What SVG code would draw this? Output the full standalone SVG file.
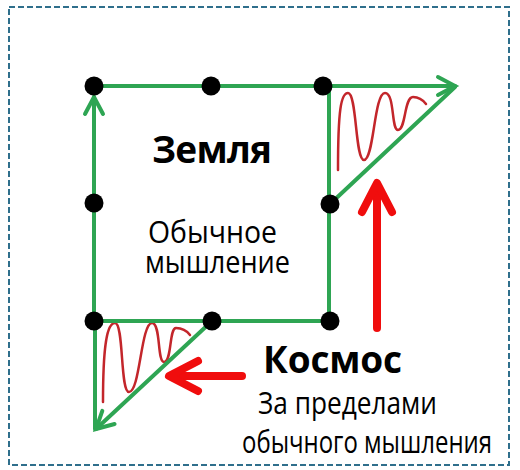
<svg xmlns="http://www.w3.org/2000/svg" width="520" height="470" viewBox="0 0 520 470">
<style>
.g{stroke:#2ea553;stroke-width:4;fill:none;stroke-linecap:round}
.r{stroke:#f00d0d;stroke-width:8;fill:none;stroke-linecap:round;stroke-linejoin:round}
.w{stroke:#c3262b;stroke-width:2.5;fill:none;stroke-linecap:round}
.dot{fill:#000}
.t{font-family:"Open Sans","Noto Sans","DejaVu Sans",sans-serif;fill:#000}
.b{font-weight:bold;font-size:37px}
.n{font-size:31px}
</style>
<defs>
<marker id="ga" markerUnits="userSpaceOnUse" markerWidth="40" markerHeight="40" refX="0" refY="0" orient="auto" viewBox="-30 -20 40 40" overflow="visible">
<path d="M-17,-9 L0,0 L-17,9" class="g"/>
</marker>
<marker id="ra" markerUnits="userSpaceOnUse" markerWidth="60" markerHeight="60" refX="0" refY="0" orient="auto" viewBox="-40 -30 60 60" overflow="visible">
<path d="M-25,-15 L4,0 L-25,15" class="r"/>
</marker>
</defs>
<rect x="9" y="7" width="500" height="458" fill="#fff" stroke="#2f6f8c" stroke-width="2" stroke-dasharray="6 3"/>
<g id="waves">
<path class="w" d="M338,170 C338,110 341,93 348,93 C357,93 355,160 364,160 C374,160 374,93 385,93 C395,93 391,130 398,130 C406,130 404,97 413,97 C419,97 423,100 426,104"/>
<path class="w" d="M103,402 C103,345 107,323 115,323 C124,323 120,392 129,392 C140,392 141,323 152,323 C161,323 157,362 164,362 C172,362 169,328 176,328 C182,328 187,331 190,335"/>
</g>
<g id="connectors">
<line class="g" x1="94" y1="86" x2="455" y2="86" marker-end="url(#ga)"/>
<line class="g" x1="94" y1="321" x2="94" y2="97" marker-end="url(#ga)"/>
<line class="g" x1="329" y1="86" x2="329" y2="321"/>
<line class="g" x1="94" y1="321" x2="330" y2="321"/>
<line class="g" x1="455" y1="87" x2="329" y2="205"/>
<line class="g" x1="95" y1="321" x2="95" y2="429"/>
<line class="g" x1="212" y1="321" x2="96" y2="429" marker-end="url(#ga)"/>
<line class="r" x1="377" y1="328" x2="377" y2="187" marker-end="url(#ra)"/>
<line class="r" x1="242" y1="376" x2="173" y2="376" marker-end="url(#ra)"/>
</g>
<g id="dots">
<circle class="dot" cx="94" cy="86" r="9.5"/>
<circle class="dot" cx="211" cy="86" r="9.5"/>
<circle class="dot" cx="323" cy="86" r="9.5"/>
<circle class="dot" cx="94" cy="203" r="9.5"/>
<circle class="dot" cx="330" cy="204" r="9.5"/>
<circle class="dot" cx="94" cy="321" r="9.5"/>
<circle class="dot" cx="212" cy="321" r="9.5"/>
<circle class="dot" cx="330" cy="321" r="9.5"/>
</g>
<g id="earth">
<text class="t b" x="152" y="163" textLength="120">Земля</text>
<text class="t n" x="148" y="243" textLength="129" lengthAdjust="spacingAndGlyphs">Обычное</text>
<text class="t n" x="145" y="273" textLength="145" lengthAdjust="spacingAndGlyphs">мышление</text>
</g>
<g id="cosmos">
<text class="t b" x="263" y="373" textLength="139">Космос</text>
<text class="t n" x="258" y="414" textLength="179" lengthAdjust="spacingAndGlyphs">За пределами</text>
<text class="t n" x="242" y="453" textLength="250" lengthAdjust="spacingAndGlyphs">обычного мышления</text>
</g>
</svg>
